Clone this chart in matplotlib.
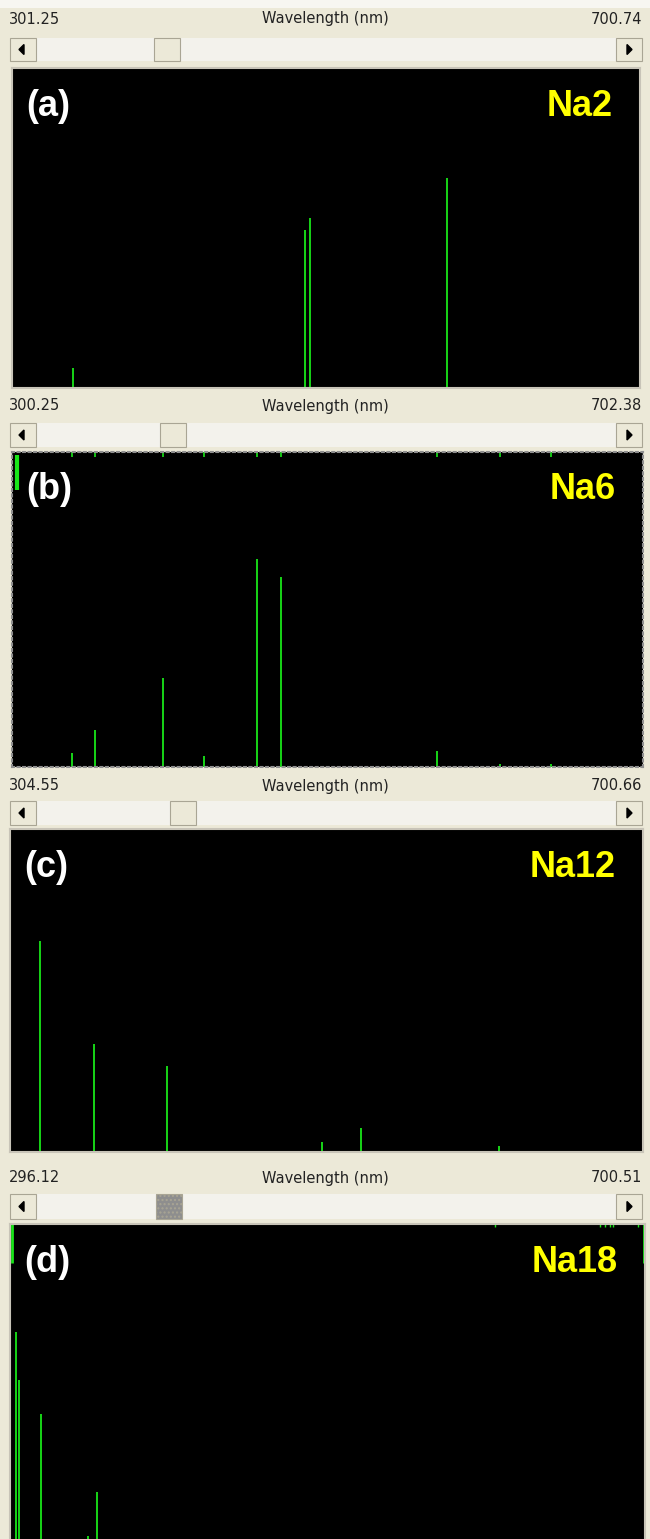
import matplotlib.pyplot as plt
from matplotlib.patches import Rectangle, Polygon

W, H = 650, 1539

# spectrum ranges shown in each header (nm)
ranges = [(301.25, 700.74), (300.25, 702.38), (304.55, 700.66), (296.12, 700.51)]
panel_tags = ['(a)', '(b)', '(c)', '(d)']
sample_names = ['Na2', 'Na6', 'Na12', 'Na18']

# line positions (nm) and relative intensities
wl_a = [340.1, 487.6, 490.8, 578.0]
int_a = [0.062, 0.494, 0.531, 0.656]

wl_b = [338.5, 353.1, 396.5, 422.6, 456.4, 471.7, 571.1, 611.2, 643.8]
int_b = [0.044, 0.117, 0.283, 0.035, 0.660, 0.603, 0.051, 0.010, 0.010]

wl_c = [323.3, 357.1, 402.8, 499.8, 524.2, 610.6]
int_c = [0.653, 0.334, 0.266, 0.031, 0.074, 0.019]

wl_d = [299.9, 301.8, 315.9, 345.8, 351.5]
int_d = [0.665, 0.516, 0.410, 0.031, 0.168]

# short markers hanging from the top edge of (d)
top_marks_d = [605.0, 672.0, 675.0, 678.0, 680.0, 696.0]

spectra = [(wl_a, int_a), (wl_b, int_b), (wl_c, int_c), (wl_d, int_d)]

# pixel layout: header text y, scrollbar (y0, y1), thumb x, plot box (x0, y0, x1, y1)
text_y = [19, 406, 786, 1178]
scroll_y = [(38, 61), (423, 447), (801, 825), (1194, 1219)]
thumb_x = [154, 160, 170, 156]
plot_box = [(12, 68, 640, 388), (12, 452, 643, 767), (10, 829, 643, 1152), (10, 1224, 645, 1546)]

green = '#19e619'
bg = '#ECE9D8'

fig = plt.figure(figsize=(W / 100, H / 100), dpi=100, facecolor=bg)

# window chrome drawn in pixel coordinates
chrome = fig.add_axes([0, 0, 1, 1], zorder=0)
chrome.set_xlim(0, W)
chrome.set_ylim(H, 0)
chrome.axis('off')
chrome.add_patch(Rectangle((0, 0), W, 8, color='#F7F6F1', lw=0))

for i in range(4):
    lo, hi = ranges[i]
    ty = text_y[i]
    chrome.text(9, ty, '%.2f' % lo, ha='left', va='center', fontsize=10.5, color='#222222')
    chrome.text(325, ty, 'Wavelength (nm)', ha='center', va='center', fontsize=10.5, color='#222222')
    chrome.text(642, ty, '%.2f' % hi, ha='right', va='center', fontsize=10.5, color='#222222')

    y0, y1 = scroll_y[i]
    chrome.add_patch(Rectangle((10, y0), 632, y1 - y0, facecolor='#F3F2EC', edgecolor='none'))
    for bx in (10, 616):
        chrome.add_patch(Rectangle((bx, y0), 26, y1 - y0, facecolor='#ECE9D8',
                                   edgecolor='#A9A594', lw=0.8))
    cy = (y0 + y1) / 2
    chrome.add_patch(Polygon([(19, cy), (24, cy - 5), (24, cy + 5)], color='black'))
    chrome.add_patch(Polygon([(632, cy), (627, cy - 5), (627, cy + 5)], color='black'))
    tx = thumb_x[i]
    if i == 3:
        chrome.add_patch(Rectangle((tx, y0), 26, y1 - y0, facecolor='#8E8E8E',
                                   edgecolor='#A9A594', lw=0.8, hatch='....'))
    else:
        chrome.add_patch(Rectangle((tx, y0), 26, y1 - y0, facecolor='#ECE9D8',
                                   edgecolor='#A9A594', lw=0.8))

for i in range(4):
    x0, y0, x1, y1 = plot_box[i]
    ax = fig.add_axes([x0 / W, 1 - y1 / H, (x1 - x0) / W, (y1 - y0) / H], zorder=1)
    ax.set_facecolor('black')
    lo, hi = ranges[i]
    ax.set_xlim(lo, hi)
    ax.set_ylim(0, 1)
    ax.set_xticks([])
    ax.set_yticks([])
    for s in ax.spines.values():
        s.set_color('#C8C4B8')
        s.set_linewidth(1.5)
        if i == 1:
            s.set_linestyle(':')
            s.set_color('#909090')

    wl, inten = spectra[i]
    ax.vlines(wl, 0, inten, color=green, lw=1.3)
    if i == 1:
        # peak markers along the top edge
        ax.vlines(wl, 0.985, 1.0, color=green, lw=1.2)
        ax.vlines([lo + 3], 0.88, 0.99, color=green, lw=3)
    if i == 3:
        ax.vlines([lo + 1.2, hi - 0.8], 0.88, 1.0, color=green, lw=2)
        ax.vlines(top_marks_d, 0.99, 1.0, color=green, lw=1)

    ax.text(0.022, 0.88, panel_tags[i], transform=ax.transAxes, ha='left', va='center',
            fontsize=26, fontweight='bold', color='white', family='Liberation Sans')
    ax.text(0.957, 0.88, sample_names[i], transform=ax.transAxes, ha='right', va='center',
            fontsize=26, fontweight='bold', color='#FFFF00', family='Liberation Sans')

fig.savefig('out.png', dpi=100, facecolor=bg)
